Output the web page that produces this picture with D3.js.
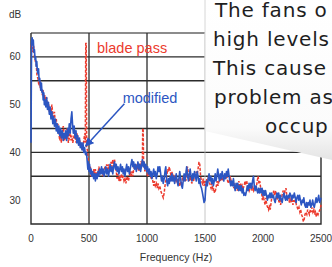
<!DOCTYPE html>
<html>
<head>
<meta charset="utf-8">
<script src="https://cdn.jsdelivr.net/npm/d3@7"></script>
<style>
  body { margin: 0; background: #fff; }
  svg { display: block; }
</style>
</head>
<body>
<div class="chart"></div>
<script>
/* global d3 */

// axis ticks and grid
var xTicks = [0, 500, 1000, 1500, 2000, 2500];
var yTicks = [30, 40, 50, 60];
var hGrid = [35, 40, 45, 55, 60, 65];
var vGridDark = [500, 1000];
var vGridLight = [1500];

// original fan, with blade pass tones (red dashed) -- [Hz, dB]
var original = [[0,62],[8,63],[15,61],[22,62.5],[30,60],[38,59],[45,58.5],[52,56],[60,55.5],[68,54],[75,55],[82,53],[90,53.5],[98,52],[105,53],[112,51],[120,52],[128,50],[135,51.5],[142,49.5],[150,50.5],[158,48.5],[165,49],[172,47.5],[180,50],[188,48],[195,47],[202,48.5],[210,46],[218,47],[225,45],[232,46],[240,44],[248,42.5],[255,43.5],[262,42],[270,44],[278,45.5],[285,44],[292,42.5],[300,43.5],[308,45],[315,44],[322,42],[330,43],[338,44.5],[345,42.5],[352,43.5],[360,42],[368,43],[375,44.5],[382,43],[390,42],[398,44],[405,43],[412,41.5],[420,42.5],[428,41],[435,42],[442,40.5],[450,41.5],[458,43],[464,44],[468,42],[472,62.8],[476,62.8],[480,41],[486,40.5],[490,39.5],[495,38],[500,37],[505,36],[512,37],[518,35],[525,36],[532,35],[540,36.5],[548,35.5],[555,36.5],[562,35],[570,36],[578,35.5],[585,37],[592,36],[600,36.5],[608,35.5],[615,36.5],[622,35],[630,36],[638,37],[645,36],[652,37.5],[660,36.5],[668,37.5],[675,36],[682,37],[690,38],[698,37],[705,38.5],[712,37.5],[720,38.5],[728,37],[735,36],[742,34.5],[750,35.5],[758,34],[765,35],[772,34],[780,35.5],[788,34.5],[795,35],[802,34],[810,34.5],[818,33.5],[825,34.5],[832,35],[840,34],[848,35],[855,36],[862,35],[870,36],[878,35],[885,36.5],[892,37.5],[900,36.5],[908,37.5],[915,36.5],[922,37],[930,36],[938,37],[945,38],[954,38],[960,37.5],[963,45],[967,45],[971,37.5],[975,37],[982,36],[990,37],[998,36],[1005,35],[1012,36.5],[1020,35],[1028,36],[1035,34.5],[1042,35.5],[1050,34],[1058,33],[1065,34],[1072,33],[1080,33.5],[1088,32.5],[1095,33.5],[1102,32.5],[1110,33],[1118,32],[1125,31.5],[1132,31],[1140,30.5],[1148,31.5],[1155,33],[1162,34],[1170,35],[1178,36.5],[1185,36],[1192,37],[1200,36],[1208,35],[1215,36],[1222,34.5],[1230,35],[1238,34],[1245,35],[1252,34],[1260,34.5],[1268,33.5],[1275,34.5],[1282,33],[1290,34],[1298,33],[1305,34.5],[1312,35],[1320,34],[1328,35],[1335,34],[1342,36.5],[1350,37],[1358,35],[1365,34],[1372,35],[1380,34],[1388,33.5],[1395,35],[1402,34],[1410,35.5],[1418,34.5],[1425,36],[1432,35],[1440,36.5],[1448,38],[1455,37.5],[1462,35],[1470,34],[1478,33.5],[1485,34.5],[1492,33],[1500,34],[1508,33],[1515,34.5],[1522,33.5],[1530,35],[1538,34],[1545,33],[1552,32.5],[1560,33.5],[1568,32],[1575,32.5],[1582,31.5],[1590,32],[1598,33],[1605,34],[1612,33],[1620,34],[1628,35],[1635,34],[1642,35],[1650,34],[1658,35],[1665,34.5],[1672,35.5],[1680,34.5],[1688,35],[1695,34],[1702,33.5],[1710,34],[1718,35],[1725,34],[1732,33],[1740,34],[1748,32.5],[1755,33.5],[1762,32.5],[1770,33],[1778,32],[1785,33],[1792,34],[1800,33],[1808,33.5],[1815,32],[1822,33],[1830,32.5],[1838,33],[1845,34],[1852,33.5],[1860,34],[1868,32.5],[1875,33],[1882,32],[1890,32.5],[1898,33.5],[1905,32],[1912,33],[1920,32],[1928,32.5],[1935,33],[1942,32.5],[1950,34],[1958,35],[1965,33.5],[1972,34],[1980,32.5],[1988,31.5],[1995,30],[2002,31],[2010,30],[2018,29],[2025,30.5],[2032,29],[2040,28.5],[2048,28],[2055,29],[2062,28],[2070,29.5],[2078,31],[2085,30.5],[2092,32],[2100,31],[2108,32],[2115,31],[2122,30],[2130,31],[2138,29.5],[2145,30],[2152,29],[2160,30.5],[2168,31.5],[2175,32],[2182,31],[2190,32],[2198,32.5],[2205,31],[2212,30],[2220,30.5],[2228,29.5],[2235,30.5],[2242,29.5],[2250,30],[2258,29],[2265,30],[2272,29.5],[2280,30],[2288,29],[2295,28.5],[2302,28],[2310,28.5],[2318,27.5],[2325,28],[2332,27],[2340,26.5],[2348,25.5],[2355,26],[2362,27],[2370,27.5],[2378,27],[2385,28],[2392,27.5],[2400,27],[2408,28],[2415,27.5],[2422,28.5],[2430,27.5],[2438,28],[2445,27],[2452,27.5],[2460,26.5],[2468,27.5],[2475,27],[2482,27.5],[2490,28],[2496,28.5],[2500,29]];

// modified fan (blue solid) -- [Hz, dB]
var modified = [[0,42],[5,63],[10,64],[15,62.5],[20,63.5],[25,61],[30,61.5],[35,59.5],[40,60],[45,58],[50,59],[55,57],[60,56.5],[65,57.5],[70,55],[75,55.5],[80,54],[85,53],[90,54.5],[95,52.5],[100,53],[105,51],[110,52.5],[115,50],[120,51],[128,49.5],[135,51.5],[142,49],[150,50.5],[158,48],[165,49.5],[172,47],[180,48.5],[188,46],[195,47.5],[202,45.5],[210,47],[218,44.5],[225,46],[232,44],[240,45.5],[248,43.5],[255,45],[262,43],[270,44.5],[278,42.5],[285,44],[292,43],[300,44.5],[308,42.5],[315,45],[322,43.5],[330,46],[338,44],[345,47],[352,48.5],[358,46],[365,44],[372,45.5],[380,43],[388,44.5],[395,42],[402,43.5],[410,41.5],[418,43],[425,41],[432,42],[440,40.5],[448,42],[455,40],[462,41],[470,39.5],[478,40],[485,38],[490,36.5],[495,38],[500,36],[505,37.5],[512,35.5],[518,36.5],[525,35],[532,36],[540,34.5],[548,35.5],[555,34],[562,35.5],[570,34.5],[578,36],[585,35],[592,36.5],[600,35.5],[608,37],[615,35.5],[622,36.5],[630,35],[638,36],[645,37],[652,35.5],[660,36.5],[668,35],[675,36],[682,37.5],[690,36],[698,37],[705,35.5],[712,37],[720,38],[728,36.5],[735,37.5],[742,36],[750,37],[758,35.5],[765,36.5],[772,37.5],[780,36],[788,37],[795,35.5],[802,36.5],[810,35],[818,36.5],[825,37.5],[832,36],[840,37],[848,35.5],[855,36.5],[862,37.5],[870,38.5],[878,37],[885,38],[892,36.5],[900,37.5],[908,36],[915,37],[922,38],[930,36.5],[938,37.5],[945,36],[952,37],[960,38.5],[968,37],[975,38],[982,36.5],[990,37.5],[998,36],[1005,37],[1012,35.5],[1020,36.5],[1028,35],[1035,36],[1042,34.5],[1050,35.5],[1058,36.5],[1065,35],[1072,36],[1080,34.5],[1088,35.5],[1095,37],[1102,36],[1110,37],[1118,35.5],[1125,34],[1132,35],[1140,33.5],[1148,34.5],[1155,36],[1162,37],[1170,34],[1178,33],[1185,34.5],[1192,33.5],[1200,35],[1208,34],[1215,35.5],[1222,34],[1230,35],[1238,33.5],[1245,34.5],[1252,35.5],[1260,34],[1268,33],[1275,34.5],[1282,36],[1290,34.5],[1298,33],[1305,32.5],[1312,34],[1320,35.5],[1328,34],[1335,35.5],[1342,37],[1350,35],[1358,34],[1365,35.5],[1372,36.5],[1380,35],[1388,34],[1395,35.5],[1402,34.5],[1410,36],[1418,35],[1425,34],[1432,36],[1440,35],[1448,33.5],[1455,34.5],[1462,33],[1470,32.5],[1478,31.5],[1485,30.5],[1492,29.5],[1500,30],[1505,32],[1512,34],[1520,33],[1528,34.5],[1535,35.5],[1542,34],[1550,35],[1558,33.5],[1565,34.5],[1572,33],[1580,34],[1588,35.5],[1595,34],[1602,35],[1610,36.5],[1618,35],[1625,34],[1632,35.5],[1640,34.5],[1648,36],[1655,35],[1662,34],[1670,35.5],[1678,34.5],[1685,36],[1692,35],[1700,36.5],[1708,35],[1715,34],[1722,33],[1730,34],[1738,33],[1745,34.5],[1752,33],[1760,32],[1768,33.5],[1775,32.5],[1782,33.5],[1790,32],[1798,33],[1805,32],[1812,33],[1820,31.5],[1828,32.5],[1835,31],[1842,31.5],[1850,31],[1858,32],[1865,33],[1872,32],[1880,33.5],[1888,32.5],[1895,33.5],[1902,32.5],[1910,34],[1918,35],[1925,33],[1932,32],[1940,33],[1948,32],[1955,31.5],[1962,32.5],[1970,31.5],[1978,32.5],[1985,31.5],[1992,32.5],[2000,31],[2008,32],[2015,31],[2022,32],[2030,31],[2038,30],[2045,31],[2052,30.5],[2060,31.5],[2068,30.5],[2075,31.5],[2082,30.5],[2090,31],[2098,30],[2105,29.5],[2112,30.5],[2120,31.5],[2128,30.5],[2135,31.5],[2142,30],[2150,31],[2158,30],[2165,29.5],[2172,30.5],[2180,31.5],[2188,30.5],[2195,30],[2202,31],[2210,30],[2218,31],[2225,30.5],[2232,31.5],[2240,31],[2248,30],[2255,31],[2262,30.5],[2270,31.5],[2278,30.5],[2285,29.5],[2292,30.5],[2300,31],[2308,30],[2315,31],[2322,30],[2330,29],[2338,30],[2345,29.5],[2352,30.5],[2360,29],[2368,28.5],[2375,29.5],[2382,28.5],[2390,29.5],[2398,29],[2405,30],[2412,28.5],[2420,29],[2428,30],[2435,29],[2442,28.5],[2450,29.5],[2458,30.5],[2465,29.5],[2472,30],[2480,31],[2488,29.5],[2495,30],[2500,30.5]];

// text of the page that sits over the figure
var pageLines = ["The fans o", "high levels", "This cause", "problem as", "occup"];
var pageIndent = [215, 213, 213, 214, 265];

var width = 332, height = 267;
var svg = d3.select(".chart").append("svg")
  .attr("width", width)
  .attr("height", height);

var x = d3.scaleLinear().domain([0, 2500]).range([31, 321]);
var y = d3.scaleLinear().domain([25, 65]).range([224, 33]);

// grid
svg.selectAll(".hgrid").data(hGrid).enter().append("line")
  .attr("x1", x(0)).attr("x2", x(2500))
  .attr("y1", function(d) { return y(d); })
  .attr("y2", function(d) { return y(d); })
  .attr("stroke", function(d) { return d === 65 ? "#666" : "#2b2b2b"; })
  .attr("stroke-width", 1.3);

svg.selectAll(".vgrid").data(vGridDark).enter().append("line")
  .attr("x1", function(d) { return x(d); })
  .attr("x2", function(d) { return x(d); })
  .attr("y1", y(65)).attr("y2", y(25))
  .attr("stroke", "#2b2b2b")
  .attr("stroke-width", 1.3);

svg.selectAll(".vgridl").data(vGridLight).enter().append("line")
  .attr("x1", function(d) { return x(d); })
  .attr("x2", function(d) { return x(d); })
  .attr("y1", y(65)).attr("y2", y(25))
  .attr("stroke", "#b8b8b8")
  .attr("stroke-width", 0.8);

// frame: left, bottom, right
svg.append("path")
  .attr("d", "M" + x(0) + "," + y(65) + "V" + y(25) + "H" + x(2500) + "V" + y(65))
  .attr("fill", "none")
  .attr("stroke", "#2b2b2b")
  .attr("stroke-width", 1.4);

// series
var line = d3.line()
  .x(function(d) { return x(d[0]); })
  .y(function(d) { return y(d[1]); });

svg.append("path")
  .datum(original)
  .attr("d", line)
  .attr("fill", "none")
  .attr("stroke", "#ec3b2e")
  .attr("stroke-width", 1.5)
  .attr("stroke-dasharray", "3,1.5");

svg.append("path")
  .datum(modified)
  .attr("d", line)
  .attr("fill", "none")
  .attr("stroke", "#2c56c2")
  .attr("stroke-width", 1.6)
  .attr("stroke-linejoin", "round");

// tick labels
var labelFont = "'Liberation Sans', Arial, sans-serif";
svg.selectAll(".ylab").data(yTicks).enter().append("text")
  .attr("x", 15)
  .attr("y", function(d) { return y(d) + 3.5; })
  .attr("text-anchor", "middle")
  .style("font-family", labelFont)
  .style("font-size", "10px")
  .attr("fill", "#333")
  .text(function(d) { return d; });

svg.append("text")
  .attr("x", 15).attr("y", 18)
  .attr("text-anchor", "middle")
  .style("font-family", labelFont)
  .style("font-size", "10px")
  .attr("fill", "#333")
  .text("dB");

svg.selectAll(".xlab").data(xTicks).enter().append("text")
  .attr("x", function(d) { return x(d); })
  .attr("y", 242)
  .attr("text-anchor", "middle")
  .style("font-family", labelFont)
  .style("font-size", "10px")
  .attr("fill", "#333")
  .text(function(d) { return d; });

svg.append("text")
  .attr("x", 176).attr("y", 261)
  .attr("text-anchor", "middle")
  .style("font-family", labelFont)
  .style("font-size", "10.5px")
  .attr("fill", "#333")
  .text("Frequency (Hz)");

// annotations
svg.append("text")
  .attr("x", x(569)).attr("y", y(60.8))
  .style("font-family", labelFont)
  .style("font-size", "14.5px")
  .attr("fill", "#ec3b2e")
  .text("blade pass");

svg.append("text")
  .attr("x", x(790)).attr("y", y(50.3))
  .style("font-family", labelFont)
  .style("font-size", "14.5px")
  .attr("fill", "#2c56c2")
  .text("modified");

svg.append("defs").append("marker")
  .attr("id", "head")
  .attr("viewBox", "0 0 10 10")
  .attr("refX", 9).attr("refY", 5)
  .attr("markerWidth", 6).attr("markerHeight", 6)
  .attr("orient", "auto")
  .append("path")
  .attr("d", "M0,0L10,5L0,10z")
  .attr("fill", "#2c56c2");

svg.append("line")
  .attr("x1", x(805)).attr("y1", y(50.2))
  .attr("x2", x(470)).attr("y2", y(41.3))
  .attr("stroke", "#2c56c2")
  .attr("stroke-width", 1.5)
  .attr("marker-end", "url(#head)");

// white page block laid over the right top of the figure
var grad = svg.select("defs").append("linearGradient")
  .attr("id", "shade")
  .attr("x1", 0).attr("y1", 0).attr("x2", 0).attr("y2", 1);
grad.append("stop").attr("offset", "0").attr("stop-color", "#fff");
grad.append("stop").attr("offset", "0.8").attr("stop-color", "#fbfbfb");
grad.append("stop").attr("offset", "1").attr("stop-color", "#e4e4e4");

svg.append("path")
  .attr("d", "M205,0H332V160L205,131Z")
  .attr("fill", "url(#shade)");

svg.append("line")
  .attr("x1", 205).attr("y1", 0).attr("x2", 205).attr("y2", 131)
  .attr("stroke", "#d6d6d6")
  .attr("stroke-width", 1);

svg.selectAll(".page").data(pageLines).enter().append("text")
  .attr("x", function(d, i) { return pageIndent[i]; })
  .attr("y", function(d, i) { return 17 + i * 29; })
  .style("font-family", "'DejaVu Sans', Verdana, sans-serif")
  .style("font-size", "20px")
  .style("letter-spacing", "0.8px")
  .attr("fill", "#1e1e1e")
  .text(function(d) { return d; });
</script>
</body>
</html>
